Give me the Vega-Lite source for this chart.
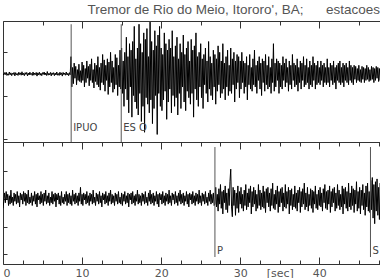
{
"$schema": "https://vega.github.io/schema/vega-lite/v6.json",
"padding": {"left": 2, "top": 3, "right": 0, "bottom": 0},
"spacing": 0,
"bounds": "flush",
"background": "white",
"title": {"text": "Tremor de Rio do Meio, Itororo', BA;\u00a0\u00a0\u00a0\u00a0\u00a0 estacoes", "anchor": "start", "dx": 85, "offset": -7, "baseline": "alphabetic", "font": "Liberation Sans", "fontSize": 13.5, "fontWeight": "normal", "color": "#555"},
"datasets": {
"top": [
{"t":0,"v":0.2},{"t":0.1,"v":-0.5},{"t":0.2,"v":0.6},{"t":0.3,"v":-0.3},{"t":0.4,"v":0.8},{"t":0.5,"v":-0.7},{"t":0.6,"v":0.1},{"t":0.7,"v":-0.6},{"t":0.8,"v":0.9},{"t":0.9,"v":-0.4},
{"t":1,"v":0.5},{"t":1.1,"v":-0.8},{"t":1.2,"v":0.3},{"t":1.3,"v":-0.2},{"t":1.4,"v":0.7},{"t":1.5,"v":-0.9},{"t":1.6,"v":0.6},{"t":1.7,"v":-0.4},{"t":1.8,"v":0.2},{"t":1.9,"v":-0.7},
{"t":2,"v":0.8},{"t":2.1,"v":-0.3},{"t":2.2,"v":0.5},{"t":2.3,"v":-0.6},{"t":2.4,"v":1},{"t":2.5,"v":-0.5},{"t":2.6,"v":0.3},{"t":2.7,"v":-0.8},{"t":2.8,"v":0.6},{"t":2.9,"v":-0.2},
{"t":3,"v":0.7},{"t":3.1,"v":-0.9},{"t":3.2,"v":0.4},{"t":3.3,"v":-0.5},{"t":3.4,"v":0.8},{"t":3.5,"v":-0.3},{"t":3.6,"v":0.2},{"t":3.7,"v":-0.7},{"t":3.8,"v":0.9},{"t":3.9,"v":-0.6},
{"t":4,"v":0.4},{"t":4.1,"v":-0.3},{"t":4.2,"v":0.7},{"t":4.3,"v":-1},{"t":4.4,"v":0.5},{"t":4.5,"v":-0.4},{"t":4.6,"v":0.8},{"t":4.7,"v":-0.6},{"t":4.8,"v":0.3},{"t":4.9,"v":-0.8},
{"t":5,"v":0.6},{"t":5.1,"v":-0.2},{"t":5.2,"v":0.9},{"t":5.3,"v":-0.5},{"t":5.4,"v":0.4},{"t":5.5,"v":-0.7},{"t":5.6,"v":1.1},{"t":5.7,"v":-0.6},{"t":5.8,"v":0.3},{"t":5.9,"v":-0.4},
{"t":6,"v":0.7},{"t":6.1,"v":-0.9},{"t":6.2,"v":0.5},{"t":6.3,"v":-0.3},{"t":6.4,"v":0.6},{"t":6.5,"v":-0.8},{"t":6.6,"v":0.4},{"t":6.7,"v":-0.5},{"t":6.8,"v":0.9},{"t":6.9,"v":-0.6},
{"t":7,"v":0.2},{"t":7.1,"v":-0.7},{"t":7.2,"v":0.8},{"t":7.3,"v":-0.4},{"t":7.4,"v":0.5},{"t":7.5,"v":-1},{"t":7.6,"v":0.7},{"t":7.7,"v":-0.3},{"t":7.8,"v":0.4},{"t":7.9,"v":-0.6},
{"t":8,"v":0.9},{"t":8.1,"v":-0.5},{"t":8.2,"v":0.3},{"t":8.3,"v":-0.8},{"t":8.4,"v":0.6},{"t":8.5,"v":-0.4},{"t":8.6,"v":8},{"t":8.7,"v":-6},{"t":8.8,"v":3},{"t":8.9,"v":-4.5},
{"t":9,"v":5},{"t":9.1,"v":-2},{"t":9.2,"v":3.5},{"t":9.3,"v":-5},{"t":9.4,"v":2},{"t":9.5,"v":-3},{"t":9.6,"v":4.5},{"t":9.7,"v":-3.5},{"t":9.8,"v":1.5},{"t":9.9,"v":-4},
{"t":10,"v":5.5},{"t":10.1,"v":-3},{"t":10.2,"v":4},{"t":10.3,"v":-6},{"t":10.4,"v":2.5},{"t":10.5,"v":-4},{"t":10.6,"v":6},{"t":10.7,"v":-2},{"t":10.8,"v":3.5},{"t":10.9,"v":-5.5},
{"t":11,"v":4.5},{"t":11.1,"v":-3},{"t":11.2,"v":7},{"t":11.3,"v":-4},{"t":11.4,"v":2},{"t":11.5,"v":-6.5},{"t":11.6,"v":5},{"t":11.7,"v":-3.5},{"t":11.8,"v":4},{"t":11.9,"v":-5},
{"t":12,"v":8},{"t":12.1,"v":-6},{"t":12.2,"v":3},{"t":12.3,"v":-7.5},{"t":12.4,"v":5},{"t":12.5,"v":-4},{"t":12.6,"v":9},{"t":12.7,"v":-5},{"t":12.8,"v":6.5},{"t":12.9,"v":-8},
{"t":13,"v":4},{"t":13.1,"v":-3},{"t":13.2,"v":7},{"t":13.3,"v":-9.5},{"t":13.4,"v":5.5},{"t":13.5,"v":-6},{"t":13.6,"v":10},{"t":13.7,"v":-4},{"t":13.8,"v":6},{"t":13.9,"v":-8.5},
{"t":14,"v":3},{"t":14.1,"v":-7},{"t":14.2,"v":9},{"t":14.3,"v":-5},{"t":14.4,"v":7.5},{"t":14.5,"v":-10},{"t":14.6,"v":4},{"t":14.7,"v":-6},{"t":14.8,"v":11},{"t":14.9,"v":-7},
{"t":15,"v":12},{"t":15.1,"v":-9},{"t":15.2,"v":6},{"t":15.3,"v":-15},{"t":15.4,"v":10},{"t":15.5,"v":-7},{"t":15.6,"v":17},{"t":15.7,"v":-12},{"t":15.8,"v":8},{"t":15.9,"v":-18},
{"t":16,"v":14},{"t":16.1,"v":-6},{"t":16.2,"v":11},{"t":16.3,"v":-20},{"t":16.4,"v":15},{"t":16.5,"v":-10},{"t":16.6,"v":22},{"t":16.7,"v":-13},{"t":16.8,"v":7},{"t":16.9,"v":-16},
{"t":17,"v":12},{"t":17.1,"v":-19},{"t":17.2,"v":23},{"t":17.3,"v":-9},{"t":17.4,"v":14},{"t":17.5,"v":-22},{"t":17.6,"v":10},{"t":17.7,"v":-15},{"t":17.8,"v":19},{"t":17.9,"v":-27},
{"t":18,"v":16},{"t":18.1,"v":-11},{"t":18.2,"v":21},{"t":18.3,"v":-14},{"t":18.4,"v":8},{"t":18.5,"v":-18},{"t":18.6,"v":24},{"t":18.7,"v":-12},{"t":18.8,"v":15},{"t":18.9,"v":-23},
{"t":19,"v":11},{"t":19.1,"v":-16},{"t":19.2,"v":20},{"t":19.3,"v":-10},{"t":19.4,"v":13},{"t":19.5,"v":-28},{"t":19.6,"v":18},{"t":19.7,"v":-9},{"t":19.8,"v":22},{"t":19.9,"v":-15},
{"t":20,"v":12},{"t":20.1,"v":-17},{"t":20.2,"v":9},{"t":20.3,"v":-12},{"t":20.4,"v":19},{"t":20.5,"v":-8},{"t":20.6,"v":14},{"t":20.7,"v":-21},{"t":20.8,"v":11},{"t":20.9,"v":-13},
{"t":21,"v":16},{"t":21.1,"v":-7},{"t":21.2,"v":12},{"t":21.3,"v":-18},{"t":21.4,"v":20},{"t":21.5,"v":-10},{"t":21.6,"v":8},{"t":21.7,"v":-15},{"t":21.8,"v":13},{"t":21.9,"v":-11},
{"t":22,"v":17},{"t":22.1,"v":-19},{"t":22.2,"v":7},{"t":22.3,"v":-9},{"t":22.4,"v":14},{"t":22.5,"v":-16},{"t":22.6,"v":10},{"t":22.7,"v":-6},{"t":22.8,"v":18},{"t":22.9,"v":-13},
{"t":23,"v":9},{"t":23.1,"v":-17},{"t":23.2,"v":12},{"t":23.3,"v":-8},{"t":23.4,"v":15},{"t":23.5,"v":-11},{"t":23.6,"v":6},{"t":23.7,"v":-14},{"t":23.8,"v":16},{"t":23.9,"v":-9},
{"t":24,"v":11},{"t":24.1,"v":-20},{"t":24.2,"v":13},{"t":24.3,"v":-7},{"t":24.4,"v":19},{"t":24.5,"v":-12},{"t":24.6,"v":8},{"t":24.7,"v":-15},{"t":24.8,"v":10},{"t":24.9,"v":-6},
{"t":25,"v":14},{"t":25.1,"v":-11},{"t":25.2,"v":7},{"t":25.3,"v":-16},{"t":25.4,"v":9},{"t":25.5,"v":-5},{"t":25.6,"v":12},{"t":25.7,"v":-9},{"t":25.8,"v":6},{"t":25.9,"v":-13},
{"t":26,"v":15},{"t":26.1,"v":-7},{"t":26.2,"v":8},{"t":26.3,"v":-10},{"t":26.4,"v":5},{"t":26.5,"v":-12},{"t":26.6,"v":11},{"t":26.7,"v":-6},{"t":26.8,"v":9},{"t":26.9,"v":-14},
{"t":27,"v":7},{"t":27.1,"v":-8},{"t":27.2,"v":13},{"t":27.3,"v":-5},{"t":27.4,"v":10},{"t":27.5,"v":-11},{"t":27.6,"v":6},{"t":27.7,"v":-9},{"t":27.8,"v":14},{"t":27.9,"v":-7},
{"t":28,"v":5},{"t":28.1,"v":-12},{"t":28.2,"v":8},{"t":28.3,"v":-6},{"t":28.4,"v":11},{"t":28.5,"v":-10},{"t":28.6,"v":4},{"t":28.7,"v":-8},{"t":28.8,"v":12},{"t":28.9,"v":-9},
{"t":29,"v":7},{"t":29.1,"v":-5},{"t":29.2,"v":10},{"t":29.3,"v":-13},{"t":29.4,"v":6},{"t":29.5,"v":-7},{"t":29.6,"v":9},{"t":29.7,"v":-4},{"t":29.8,"v":8},{"t":29.9,"v":-11},
{"t":30,"v":6},{"t":30.1,"v":-7},{"t":30.2,"v":10},{"t":30.3,"v":-4},{"t":30.4,"v":6},{"t":30.5,"v":-9},{"t":30.6,"v":5},{"t":30.7,"v":-6},{"t":30.8,"v":8},{"t":30.9,"v":-12},
{"t":31,"v":4},{"t":31.1,"v":-5},{"t":31.2,"v":9},{"t":31.3,"v":-7},{"t":31.4,"v":3},{"t":31.5,"v":-8},{"t":31.6,"v":7},{"t":31.7,"v":-5},{"t":31.8,"v":11},{"t":31.9,"v":-6},
{"t":32,"v":4},{"t":32.1,"v":-9},{"t":32.2,"v":6},{"t":32.3,"v":-3},{"t":32.4,"v":8},{"t":32.5,"v":-7},{"t":32.6,"v":5},{"t":32.7,"v":-10},{"t":32.8,"v":7},{"t":32.9,"v":-4},
{"t":33,"v":6},{"t":33.1,"v":-8},{"t":33.2,"v":9},{"t":33.3,"v":-5},{"t":33.4,"v":4},{"t":33.5,"v":-7},{"t":33.6,"v":8},{"t":33.7,"v":-6},{"t":33.8,"v":3},{"t":33.9,"v":-9},
{"t":34,"v":7},{"t":34.1,"v":-4},{"t":34.2,"v":14},{"t":34.3,"v":-8},{"t":34.4,"v":5},{"t":34.5,"v":-6},{"t":34.6,"v":7},{"t":34.7,"v":-3},{"t":34.8,"v":6},{"t":34.9,"v":-9},
{"t":35,"v":5},{"t":35.1,"v":-6},{"t":35.2,"v":4},{"t":35.3,"v":-7},{"t":35.4,"v":8},{"t":35.5,"v":-3},{"t":35.6,"v":5},{"t":35.7,"v":-6},{"t":35.8,"v":7},{"t":35.9,"v":-4},
{"t":36,"v":3},{"t":36.1,"v":-8},{"t":36.2,"v":6},{"t":36.3,"v":-5},{"t":36.4,"v":4},{"t":36.5,"v":-7},{"t":36.6,"v":9},{"t":36.7,"v":-3},{"t":36.8,"v":5},{"t":36.9,"v":-6},
{"t":37,"v":4},{"t":37.1,"v":-5},{"t":37.2,"v":7},{"t":37.3,"v":-8},{"t":37.4,"v":3},{"t":37.5,"v":-4},{"t":37.6,"v":6},{"t":37.7,"v":-7},{"t":37.8,"v":5},{"t":37.9,"v":-3},
{"t":38,"v":8},{"t":38.1,"v":-6},{"t":38.2,"v":4},{"t":38.3,"v":-5},{"t":38.4,"v":7},{"t":38.5,"v":-4},{"t":38.6,"v":3},{"t":38.7,"v":-7},{"t":38.8,"v":6},{"t":38.9,"v":-5},
{"t":39,"v":4},{"t":39.1,"v":-6},{"t":39.2,"v":8},{"t":39.3,"v":-3},{"t":39.4,"v":5},{"t":39.5,"v":-7},{"t":39.6,"v":4},{"t":39.7,"v":-5},{"t":39.8,"v":6},{"t":39.9,"v":-4},
{"t":40,"v":3},{"t":40.1,"v":-5},{"t":40.2,"v":6},{"t":40.3,"v":-3},{"t":40.4,"v":4},{"t":40.5,"v":-6},{"t":40.6,"v":5},{"t":40.7,"v":-4},{"t":40.8,"v":3},{"t":40.9,"v":-5},
{"t":41,"v":7},{"t":41.1,"v":-4},{"t":41.2,"v":3},{"t":41.3,"v":-6},{"t":41.4,"v":5},{"t":41.5,"v":-3},{"t":41.6,"v":4},{"t":41.7,"v":-5},{"t":41.8,"v":6},{"t":41.9,"v":-4},
{"t":42,"v":3},{"t":42.1,"v":-7},{"t":42.2,"v":4},{"t":42.3,"v":-3},{"t":42.4,"v":5},{"t":42.5,"v":-4},{"t":42.6,"v":6},{"t":42.7,"v":-5},{"t":42.8,"v":3},{"t":42.9,"v":-4},
{"t":43,"v":5},{"t":43.1,"v":-6},{"t":43.2,"v":4},{"t":43.3,"v":-3},{"t":43.4,"v":5},{"t":43.5,"v":-4},{"t":43.6,"v":3},{"t":43.7,"v":-5},{"t":43.8,"v":6},{"t":43.9,"v":-3},
{"t":44,"v":4},{"t":44.1,"v":-4},{"t":44.2,"v":3},{"t":44.3,"v":-5},{"t":44.4,"v":4},{"t":44.5,"v":-2.5},{"t":44.6,"v":3.5},{"t":44.7,"v":-4},{"t":44.8,"v":2.5},{"t":44.9,"v":-3},
{"t":45,"v":4},{"t":45.1,"v":-3.5},{"t":45.2,"v":2},{"t":45.3,"v":-4},{"t":45.4,"v":3.5},{"t":45.5,"v":-2.5},{"t":45.6,"v":3},{"t":45.7,"v":-4},{"t":45.8,"v":2.5},{"t":45.9,"v":-3},
{"t":46,"v":4},{"t":46.1,"v":-2.5},{"t":46.2,"v":3},{"t":46.3,"v":-3.5},{"t":46.4,"v":2},{"t":46.5,"v":-3},{"t":46.6,"v":3.5},{"t":46.7,"v":-2.5},{"t":46.8,"v":3},{"t":46.9,"v":-4},
{"t":47,"v":2.5},{"t":47.1,"v":-3},{"t":47.2,"v":3.5},{"t":47.3,"v":-2},{"t":47.4,"v":3},{"t":47.5,"v":-3.5},{"t":47.6,"v":2.5},{"t":47.7,"v":-3},{"t":47.8,"v":3}
],
"bot": [
{"t":0,"v":-7},{"t":0.1,"v":-2},{"t":0.2,"v":4},{"t":0.3,"v":-3},{"t":0.4,"v":5},{"t":0.5,"v":-1},{"t":0.6,"v":3},{"t":0.7,"v":-5},{"t":0.8,"v":2},{"t":0.9,"v":-4},
{"t":1,"v":6},{"t":1.1,"v":-3},{"t":1.2,"v":1},{"t":1.3,"v":-5},{"t":1.4,"v":4},{"t":1.5,"v":-2},{"t":1.6,"v":3},{"t":1.7,"v":-4},{"t":1.8,"v":5},{"t":1.9,"v":-3},
{"t":2,"v":2},{"t":2.1,"v":-6},{"t":2.2,"v":4},{"t":2.3,"v":-1},{"t":2.4,"v":3},{"t":2.5,"v":-4},{"t":2.6,"v":5},{"t":2.7,"v":-2},{"t":2.8,"v":4},{"t":2.9,"v":-5},
{"t":3,"v":3},{"t":3.1,"v":-3},{"t":3.2,"v":6},{"t":3.3,"v":-4},{"t":3.4,"v":1},{"t":3.5,"v":-3},{"t":3.6,"v":4},{"t":3.7,"v":-5},{"t":3.8,"v":2},{"t":3.9,"v":-2},
{"t":4,"v":5},{"t":4.1,"v":-4},{"t":4.2,"v":3},{"t":4.3,"v":-6},{"t":4.4,"v":4},{"t":4.5,"v":-1},{"t":4.6,"v":2},{"t":4.7,"v":-4},{"t":4.8,"v":5},{"t":4.9,"v":-3},
{"t":5,"v":3},{"t":5.1,"v":-5},{"t":5.2,"v":4},{"t":5.3,"v":-2},{"t":5.4,"v":6},{"t":5.5,"v":-4},{"t":5.6,"v":2},{"t":5.7,"v":-3},{"t":5.8,"v":4},{"t":5.9,"v":-5},
{"t":6,"v":1},{"t":6.1,"v":-3},{"t":6.2,"v":5},{"t":6.3,"v":-4},{"t":6.4,"v":3},{"t":6.5,"v":-2},{"t":6.6,"v":4},{"t":6.7,"v":-6},{"t":6.8,"v":3},{"t":6.9,"v":-1},
{"t":7,"v":4},{"t":7.1,"v":-4},{"t":7.2,"v":2},{"t":7.3,"v":-5},{"t":7.4,"v":5},{"t":7.5,"v":-3},{"t":7.6,"v":1},{"t":7.7,"v":-4},{"t":7.8,"v":3},{"t":7.9,"v":-2},
{"t":8,"v":5},{"t":8.1,"v":-5},{"t":8.2,"v":3},{"t":8.3,"v":-3},{"t":8.4,"v":4},{"t":8.5,"v":-4},{"t":8.6,"v":2},{"t":8.7,"v":-5},{"t":8.8,"v":6},{"t":8.9,"v":-2},
{"t":9,"v":3},{"t":9.1,"v":-4},{"t":9.2,"v":4},{"t":9.3,"v":-3},{"t":9.4,"v":2},{"t":9.5,"v":-5},{"t":9.6,"v":4},{"t":9.7,"v":-2},{"t":9.8,"v":8},{"t":9.9,"v":-4},
{"t":10,"v":3},{"t":10.1,"v":-5},{"t":10.2,"v":4},{"t":10.3,"v":-1},{"t":10.4,"v":3},{"t":10.5,"v":-4},{"t":10.6,"v":5},{"t":10.7,"v":-3},{"t":10.8,"v":2},{"t":10.9,"v":-5},
{"t":11,"v":4},{"t":11.1,"v":-2},{"t":11.2,"v":3},{"t":11.3,"v":-4},{"t":11.4,"v":6},{"t":11.5,"v":-3},{"t":11.6,"v":1},{"t":11.7,"v":-5},{"t":11.8,"v":4},{"t":11.9,"v":-2},
{"t":12,"v":3},{"t":12.1,"v":-4},{"t":12.2,"v":5},{"t":12.3,"v":-3},{"t":12.4,"v":2},{"t":12.5,"v":-6},{"t":12.6,"v":4},{"t":12.7,"v":-1},{"t":12.8,"v":3},{"t":12.9,"v":-4},
{"t":13,"v":5},{"t":13.1,"v":-3},{"t":13.2,"v":2},{"t":13.3,"v":-5},{"t":13.4,"v":4},{"t":13.5,"v":-2},{"t":13.6,"v":6},{"t":13.7,"v":-4},{"t":13.8,"v":3},{"t":13.9,"v":-3},
{"t":14,"v":2},{"t":14.1,"v":-5},{"t":14.2,"v":4},{"t":14.3,"v":-2},{"t":14.4,"v":3},{"t":14.5,"v":-4},{"t":14.6,"v":5},{"t":14.7,"v":-3},{"t":14.8,"v":1},{"t":14.9,"v":-4},
{"t":15,"v":4},{"t":15.1,"v":-5},{"t":15.2,"v":3},{"t":15.3,"v":-2},{"t":15.4,"v":5},{"t":15.5,"v":-4},{"t":15.6,"v":2},{"t":15.7,"v":-3},{"t":15.8,"v":4},{"t":15.9,"v":-6},
{"t":16,"v":3},{"t":16.1,"v":-1},{"t":16.2,"v":4},{"t":16.3,"v":-4},{"t":16.4,"v":5},{"t":16.5,"v":-3},{"t":16.6,"v":2},{"t":16.7,"v":-5},{"t":16.8,"v":3},{"t":16.9,"v":-2},
{"t":17,"v":6},{"t":17.1,"v":-4},{"t":17.2,"v":3},{"t":17.3,"v":-3},{"t":17.4,"v":2},{"t":17.5,"v":-5},{"t":17.6,"v":4},{"t":17.7,"v":-2},{"t":17.8,"v":3},{"t":17.9,"v":-4},
{"t":18,"v":5},{"t":18.1,"v":-3},{"t":18.2,"v":1},{"t":18.3,"v":-5},{"t":18.4,"v":4},{"t":18.5,"v":-2},{"t":18.6,"v":6},{"t":18.7,"v":-4},{"t":18.8,"v":3},{"t":18.9,"v":-3},
{"t":19,"v":4},{"t":19.1,"v":-5},{"t":19.2,"v":2},{"t":19.3,"v":-2},{"t":19.4,"v":5},{"t":19.5,"v":-4},{"t":19.6,"v":3},{"t":19.7,"v":-6},{"t":19.8,"v":4},{"t":19.9,"v":-1},
{"t":20,"v":3},{"t":20.1,"v":-4},{"t":20.2,"v":5},{"t":20.3,"v":-3},{"t":20.4,"v":2},{"t":20.5,"v":-5},{"t":20.6,"v":4},{"t":20.7,"v":-2},{"t":20.8,"v":3},{"t":20.9,"v":-4},
{"t":21,"v":6},{"t":21.1,"v":-3},{"t":21.2,"v":2},{"t":21.3,"v":-5},{"t":21.4,"v":4},{"t":21.5,"v":-1},{"t":21.6,"v":3},{"t":21.7,"v":-4},{"t":21.8,"v":5},{"t":21.9,"v":-3},
{"t":22,"v":2},{"t":22.1,"v":-5},{"t":22.2,"v":4},{"t":22.3,"v":-2},{"t":22.4,"v":6},{"t":22.5,"v":-4},{"t":22.6,"v":3},{"t":22.7,"v":-3},{"t":22.8,"v":4},{"t":22.9,"v":-5},
{"t":23,"v":2},{"t":23.1,"v":-2},{"t":23.2,"v":5},{"t":23.3,"v":-4},{"t":23.4,"v":3},{"t":23.5,"v":-6},{"t":23.6,"v":4},{"t":23.7,"v":-1},{"t":23.8,"v":3},{"t":23.9,"v":-4},
{"t":24,"v":5},{"t":24.1,"v":-3},{"t":24.2,"v":2},{"t":24.3,"v":-5},{"t":24.4,"v":4},{"t":24.5,"v":-2},{"t":24.6,"v":3},{"t":24.7,"v":-4},{"t":24.8,"v":6},{"t":24.9,"v":-3},
{"t":25,"v":2},{"t":25.1,"v":-5},{"t":25.2,"v":4},{"t":25.3,"v":-2},{"t":25.4,"v":3},{"t":25.5,"v":-4},{"t":25.6,"v":5},{"t":25.7,"v":-3},{"t":25.8,"v":1},{"t":25.9,"v":-5},
{"t":26,"v":4},{"t":26.1,"v":-2},{"t":26.2,"v":6},{"t":26.3,"v":-4},{"t":26.4,"v":3},{"t":26.5,"v":-3},{"t":26.6,"v":4},{"t":26.7,"v":-5},{"t":26.8,"v":-4},{"t":26.9,"v":8},
{"t":27,"v":-6},{"t":27.1,"v":3},{"t":27.2,"v":-9},{"t":27.3,"v":7},{"t":27.4,"v":-4},{"t":27.5,"v":10},{"t":27.6,"v":-7},{"t":27.7,"v":5},{"t":27.8,"v":-11},{"t":27.9,"v":6},
{"t":28,"v":-3},{"t":28.1,"v":9},{"t":28.2,"v":-8},{"t":28.3,"v":4},{"t":28.4,"v":-10},{"t":28.5,"v":7},{"t":28.6,"v":-5},{"t":28.7,"v":12},{"t":28.8,"v":21},{"t":28.9,"v":-6},
{"t":29,"v":-13},{"t":29.1,"v":8},{"t":29.2,"v":-5},{"t":29.3,"v":6},{"t":29.4,"v":-12},{"t":29.5,"v":4},{"t":29.6,"v":-7},{"t":29.7,"v":9},{"t":29.8,"v":-10},{"t":29.9,"v":5},
{"t":30,"v":-4},{"t":30.1,"v":8},{"t":30.2,"v":-7},{"t":30.3,"v":3},{"t":30.4,"v":-9},{"t":30.5,"v":6},{"t":30.6,"v":-5},{"t":30.7,"v":10},{"t":30.8,"v":-8},{"t":30.9,"v":4},
{"t":31,"v":-6},{"t":31.1,"v":7},{"t":31.2,"v":-3},{"t":31.3,"v":9},{"t":31.4,"v":-11},{"t":31.5,"v":5},{"t":31.6,"v":-6},{"t":31.7,"v":8},{"t":31.8,"v":-4},{"t":31.9,"v":6},
{"t":32,"v":-9},{"t":32.1,"v":3},{"t":32.2,"v":-7},{"t":32.3,"v":10},{"t":32.4,"v":-5},{"t":32.5,"v":6},{"t":32.6,"v":-8},{"t":32.7,"v":4},{"t":32.8,"v":-6},{"t":32.9,"v":9},
{"t":33,"v":-7},{"t":33.1,"v":5},{"t":33.2,"v":-10},{"t":33.3,"v":7},{"t":33.4,"v":-3},{"t":33.5,"v":8},{"t":33.6,"v":-6},{"t":33.7,"v":4},{"t":33.8,"v":-9},{"t":33.9,"v":7},
{"t":34,"v":-5},{"t":34.1,"v":11},{"t":34.2,"v":-7},{"t":34.3,"v":3},{"t":34.4,"v":-8},{"t":34.5,"v":6},{"t":34.6,"v":-4},{"t":34.7,"v":9},{"t":34.8,"v":-10},{"t":34.9,"v":5},
{"t":35,"v":-6},{"t":35.1,"v":7},{"t":35.2,"v":-3},{"t":35.3,"v":8},{"t":35.4,"v":-9},{"t":35.5,"v":4},{"t":35.6,"v":-6},{"t":35.7,"v":10},{"t":35.8,"v":-7},{"t":35.9,"v":5},
{"t":36,"v":-4},{"t":36.1,"v":8},{"t":36.2,"v":-11},{"t":36.3,"v":6},{"t":36.4,"v":-5},{"t":36.5,"v":7},{"t":36.6,"v":-8},{"t":36.7,"v":3},{"t":36.8,"v":-6},{"t":36.9,"v":9},
{"t":37,"v":-7},{"t":37.1,"v":4},{"t":37.2,"v":-9},{"t":37.3,"v":6},{"t":37.4,"v":-3},{"t":37.5,"v":8},{"t":37.6,"v":-10},{"t":37.7,"v":5},{"t":37.8,"v":-6},{"t":37.9,"v":7},
{"t":38,"v":-4},{"t":38.1,"v":11},{"t":38.2,"v":-8},{"t":38.3,"v":4},{"t":38.4,"v":-6},{"t":38.5,"v":8},{"t":38.6,"v":-9},{"t":38.7,"v":3},{"t":38.8,"v":-5},{"t":38.9,"v":7},
{"t":39,"v":-7},{"t":39.1,"v":6},{"t":39.2,"v":-10},{"t":39.3,"v":5},{"t":39.4,"v":-4},{"t":39.5,"v":9},{"t":39.6,"v":-7},{"t":39.7,"v":3},{"t":39.8,"v":-8},{"t":39.9,"v":6},
{"t":40,"v":-5},{"t":40.1,"v":8},{"t":40.2,"v":-6},{"t":40.3,"v":4},{"t":40.4,"v":-9},{"t":40.5,"v":7},{"t":40.6,"v":-3},{"t":40.7,"v":10},{"t":40.8,"v":-7},{"t":40.9,"v":5},
{"t":41,"v":-8},{"t":41.1,"v":6},{"t":41.2,"v":-4},{"t":41.3,"v":9},{"t":41.4,"v":-10},{"t":41.5,"v":5},{"t":41.6,"v":-6},{"t":41.7,"v":7},{"t":41.8,"v":-3},{"t":41.9,"v":8},
{"t":42,"v":-9},{"t":42.1,"v":4},{"t":42.2,"v":-7},{"t":42.3,"v":10},{"t":42.4,"v":-5},{"t":42.5,"v":6},{"t":42.6,"v":-8},{"t":42.7,"v":3},{"t":42.8,"v":-6},{"t":42.9,"v":9},
{"t":43,"v":-11},{"t":43.1,"v":7},{"t":43.2,"v":-4},{"t":43.3,"v":8},{"t":43.4,"v":-7},{"t":43.5,"v":5},{"t":43.6,"v":-9},{"t":43.7,"v":11},{"t":43.8,"v":-6},{"t":43.9,"v":4},
{"t":44,"v":-8},{"t":44.1,"v":9},{"t":44.2,"v":-5},{"t":44.3,"v":7},{"t":44.4,"v":-10},{"t":44.5,"v":6},{"t":44.6,"v":-4},{"t":44.7,"v":12},{"t":44.8,"v":-9},{"t":44.9,"v":5},
{"t":45,"v":-7},{"t":45.1,"v":8},{"t":45.2,"v":-11},{"t":45.3,"v":6},{"t":45.4,"v":-5},{"t":45.5,"v":10},{"t":45.6,"v":-8},{"t":45.7,"v":4},{"t":45.8,"v":-12},{"t":45.9,"v":9},
{"t":46,"v":-6},{"t":46.1,"v":11},{"t":46.2,"v":-9},{"t":46.3,"v":5},{"t":46.4,"v":-10},{"t":46.5,"v":13},{"t":46.6,"v":-8},{"t":46.7,"v":15},{"t":46.8,"v":-14},{"t":46.9,"v":10},
{"t":47,"v":-18},{"t":47.1,"v":12},{"t":47.2,"v":-9},{"t":47.3,"v":14},{"t":47.4,"v":-12},{"t":47.5,"v":8},{"t":47.6,"v":-15},{"t":47.7,"v":11},{"t":47.8,"v":-10}
],
"picks": [
{"t":8.62,"panel":"top","label":"IPUO"},
{"t":14.95,"panel":"top","label":"ES O"},
{"t":26.8,"panel":"bottom","label":"P"},
{"t":46.47,"panel":"bottom","label":"S"}
]
},
"vconcat": [
{
"width": 378, "height": 121,
"layer": [
{"data": {"name": "top"},
 "mark": {"type": "line", "color": "black", "strokeWidth": 1, "clip": true},
 "encoding": {
  "x": {"field": "t", "type": "quantitative", "title": null, "scale": {"domain": [0, 47.8], "nice": false, "zero": false},
        "axis": {"orient": "top", "values": [0,2.5,5,7.5,10,12.5,15,17.5,20,22.5,25,27.5,30,32.5,35,37.5,40,42.5,45,47.5], "labels": false,
                 "tickSize": {"condition": {"test": "datum.value % 10 === 0", "value": -7}, "value": -4}}},
  "y": {"field": "v", "type": "quantitative", "title": null, "scale": {"domain": [-31.5, 24.5], "nice": false, "zero": false},
        "axis": {"values": [-30,-20,-10,0,10,20], "labels": false, "tickSize": -4}}
 }},
{"data": {"name": "picks"}, "transform": [{"filter": "datum.panel === 'top'"}],
 "mark": {"type": "rule", "color": "#555", "strokeWidth": 1},
 "encoding": {"x": {"field": "t", "type": "quantitative"}, "y": {"datum": 23}, "y2": {"datum": -31.5}}},
{"data": {"name": "picks"}, "transform": [{"filter": "datum.panel === 'top'"}],
 "mark": {"type": "text", "align": "left", "baseline": "alphabetic", "dx": 2, "font": "DejaVu Sans", "fontSize": 10, "color": "#444"},
 "encoding": {"x": {"field": "t", "type": "quantitative"}, "y": {"datum": -26.4}, "text": {"field": "label"}}}
]
},
{
"width": 378, "height": 122,
"resolve": {"axis": {"x": "independent"}},
"layer": [
{"data": {"name": "bot"},
 "mark": {"type": "line", "color": "black", "strokeWidth": 1, "clip": true},
 "encoding": {
  "x": {"field": "t", "type": "quantitative", "title": null, "scale": {"domain": [0, 47.8], "nice": false, "zero": false},
        "axis": {"orient": "bottom", "values": [0,2.5,5,7.5,10,12.5,15,17.5,20,22.5,25,27.5,30,32.5,35,37.5,40,42.5,45,47.5],
                 "labelExpr": "datum.value % 10 === 0 ? datum.value : (datum.value === 35 ? '[sec]' : '')",
                 "tickSize": {"condition": {"test": "datum.value % 10 === 0", "value": -7}, "value": -4},
                 "labelPadding": {"condition": {"test": "datum.value % 10 === 0", "value": 10}, "value": 7}}},
  "y": {"field": "v", "type": "quantitative", "title": null, "scale": {"domain": [-46.8, 40.4], "nice": false, "zero": false},
        "axis": {"values": [-40,-30,-20,-10,0,10,20,30], "labels": false, "tickSize": -4}}
 }},
{"data": {"name": "picks"}, "transform": [{"filter": "datum.panel === 'bottom'"}],
 "mark": {"type": "rule", "color": "#555", "strokeWidth": 1},
 "encoding": {"x": {"field": "t", "type": "quantitative", "title": null,
        "axis": {"orient": "top", "values": [0,2.5,5,7.5,10,12.5,15,17.5,20,22.5,25,27.5,30,32.5,35,37.5,40,42.5,45,47.5], "labels": false,
                 "tickSize": {"condition": {"test": "datum.value % 10 === 0", "value": -7}, "value": -4}}},
   "y": {"datum": 36.8}, "y2": {"datum": -41.8}}},
{"data": {"name": "picks"}, "transform": [{"filter": "datum.panel === 'bottom'"}],
 "mark": {"type": "text", "align": "left", "baseline": "alphabetic", "dx": 2, "font": "DejaVu Sans", "fontSize": 10, "color": "#444"},
 "encoding": {"x": {"field": "t", "type": "quantitative", "axis": null}, "y": {"datum": -39.6}, "text": {"field": "label"}}}
]
}
],
"config": {
 "view": {"stroke": null},
 "axis": {"grid": false, "domainColor": "#333", "tickColor": "#333", "domainWidth": 1, "tickWidth": 1, "labelColor": "#555", "labelFont": "DejaVu Sans", "labelFontSize": 11}
}
}
